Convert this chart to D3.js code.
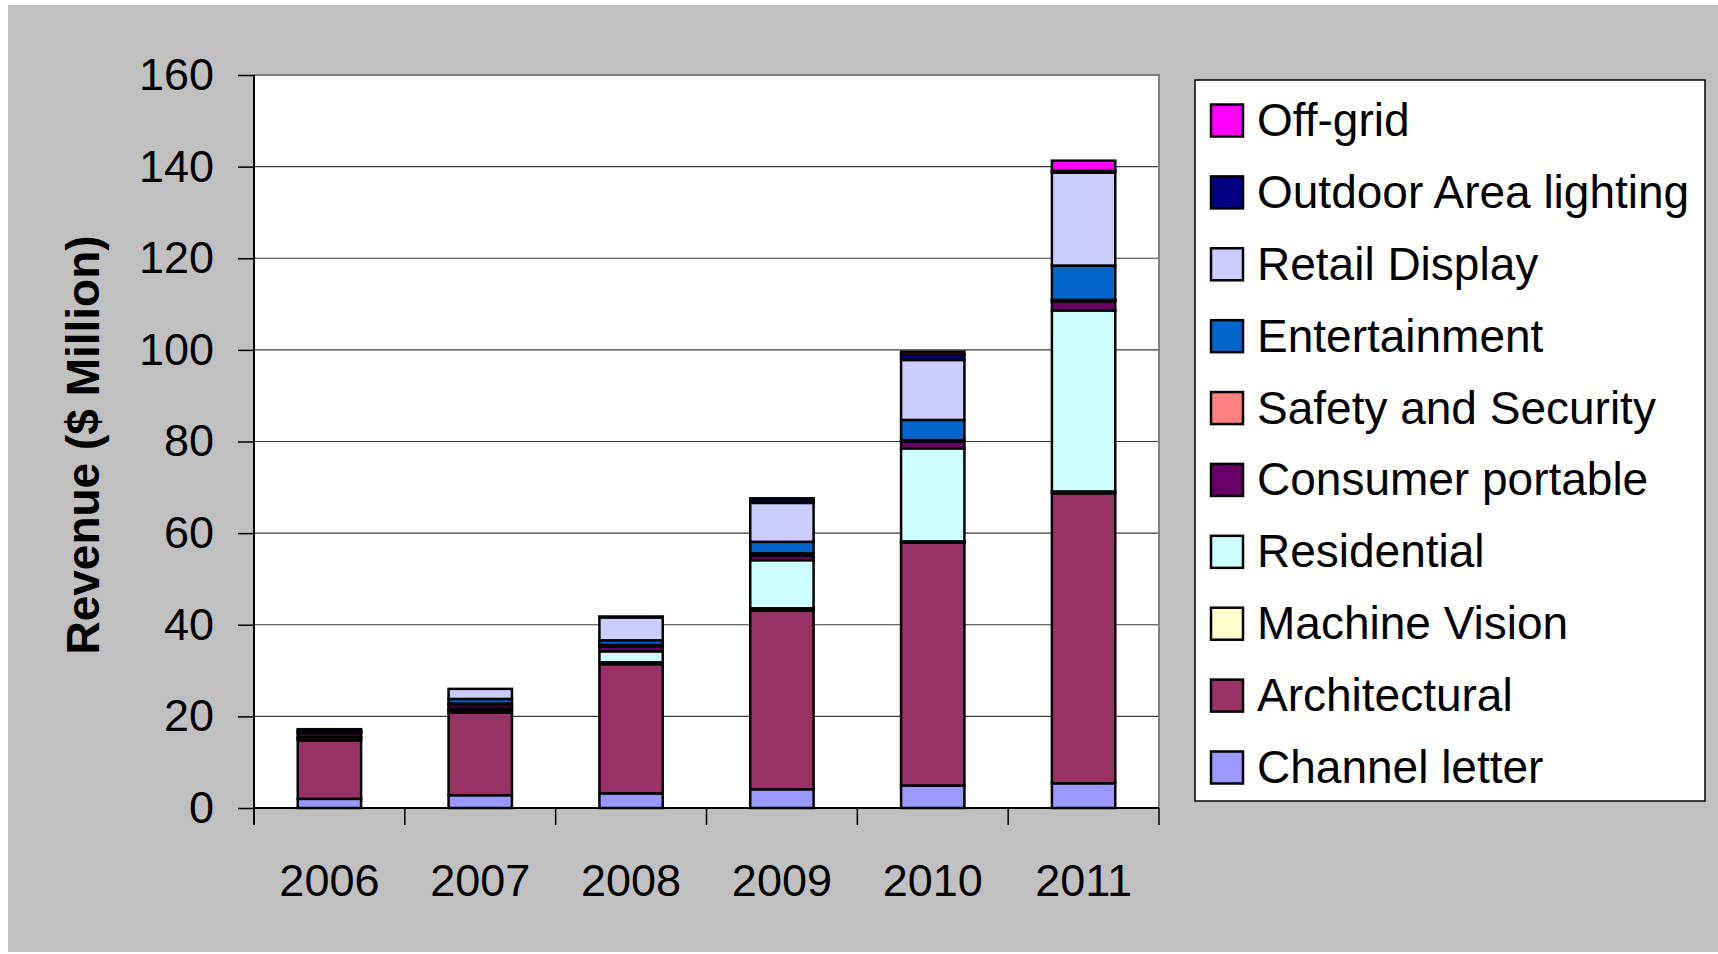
<!DOCTYPE html>
<html>
<head>
<meta charset="utf-8">
<script src="https://cdn.jsdelivr.net/npm/d3@7"></script>
<style>
  html, body { margin: 0; padding: 0; background: #ffffff; }
  svg { display: block; font-family: "Liberation Sans", Arial, sans-serif; }
</style>
</head>
<body>
<svg id="chart" width="1718" height="954"></svg>
<script>
// ---- Data ----
const years = ["2006", "2007", "2008", "2009", "2010", "2011"];
// series listed bottom-to-top of the stack
const seriesNames = ["Channel letter", "Architectural", "Machine Vision", "Residential",
  "Consumer portable", "Safety and Security", "Entertainment", "Retail Display",
  "Outdoor Area lighting", "Off-grid"];
const channelLetter    = [2.0, 2.8, 3.2, 4.1, 4.9, 5.4];
const architectural    = [12.7, 18.0, 28.2, 39.0, 53.0, 63.3];
const machineVision    = [0.5, 0.4, 0.4, 0.5, 0.3, 0.4];
const residential      = [0.3, 0.5, 2.4, 10.5, 20.3, 39.5];
const consumerPortable = [0.8, 0.8, 1.0, 1.0, 1.5, 2.0];
const safetySecurity   = [0.3, 0.3, 0.4, 0.5, 0.3, 0.3];
const entertainment    = [0.3, 1.0, 1.0, 2.5, 4.4, 7.5];
const retailDisplay    = [0.3, 2.2, 5.0, 8.5, 13.1, 20.3];
const outdoorArea      = [0.0, 0.0, 0.2, 0.8, 1.2, 0.4];
const offGrid          = [0.0, 0.0, 0.0, 0.2, 0.6, 2.2];
const yTicks = [0, 20, 40, 60, 80, 100, 120, 140, 160];
const colors = ["#9999FF", "#993366", "#FFFFCC", "#CCFFFF", "#660066",
  "#FF8080", "#0066CC", "#CCCCFF", "#000080", "#FF00FF"];

const seriesValues = [channelLetter, architectural, machineVision, residential,
  consumerPortable, safetySecurity, entertainment, retailDisplay, outdoorArea, offGrid];

const table = years.map((yr, i) => {
  const row = { year: yr };
  seriesNames.forEach((s, k) => { row[s] = seriesValues[k][i]; });
  return row;
});

// ---- Layout ----
const svg = d3.select("#chart");
const plot = { left: 254, right: 1159, top: 75, bottom: 808 };

svg.append("rect").attr("x", 8).attr("y", 5).attr("width", 1710).attr("height", 947)
  .attr("fill", "#C0C0C0");

svg.append("rect").attr("x", plot.left).attr("y", plot.top)
  .attr("width", plot.right - plot.left).attr("height", plot.bottom - plot.top)
  .attr("fill", "#ffffff");

const x = d3.scaleBand().domain(years).range([plot.left, plot.right])
  .paddingInner(0.58).paddingOuter(0.29);
const y = d3.scaleLinear().domain([0, 160]).range([plot.bottom, plot.top]);

// gridlines
svg.append("g").selectAll("line").data(yTicks.filter(t => t > 0 && t < 160)).join("line")
  .attr("x1", plot.left).attr("x2", plot.right)
  .attr("y1", d => y(d)).attr("y2", d => y(d))
  .attr("stroke", "#3a3a3a").attr("stroke-width", 1.2);

// plot border (top & right)
svg.append("path")
  .attr("d", `M${plot.left},${plot.top}H${plot.right}V${plot.bottom}`)
  .attr("fill", "none").attr("stroke", "#808080").attr("stroke-width", 2);

// stacked bars
const stacked = d3.stack().keys(seriesNames)(table);
svg.append("g").selectAll("g").data(stacked).join("g")
  .attr("fill", (d, i) => colors[i])
  .selectAll("rect").data(d => d).join("rect")
  .attr("x", d => x(d.data.year))
  .attr("width", x.bandwidth())
  .attr("y", d => y(d[1]))
  .attr("height", d => Math.max(0, y(d[0]) - y(d[1])))
  .attr("stroke", "#000").attr("stroke-width", 2.5);

// y axis
const yAxis = d3.axisLeft(y).tickValues(yTicks).tickSize(16).tickPadding(24);
const gy = svg.append("g").attr("transform", `translate(${plot.left},0)`).call(yAxis);
gy.select(".domain").attr("stroke", "#000").attr("stroke-width", 2)
  .attr("d", `M0,${plot.top}V${plot.bottom + 17}`);
gy.selectAll(".tick line").attr("stroke", "#000").attr("stroke-width", 1.5);
gy.selectAll(".tick text").attr("font-size", 45).attr("fill", "#000")
  .attr("font-family", "Liberation Sans, Arial, sans-serif");

// x axis with boundary ticks
const boundaries = years.map(yr => x(yr) - x.step() * x.paddingInner() / 2)
  .concat([plot.right]);
svg.append("line").attr("x1", plot.left).attr("x2", plot.right)
  .attr("y1", plot.bottom).attr("y2", plot.bottom)
  .attr("stroke", "#000").attr("stroke-width", 2);
svg.append("g").selectAll("line").data(boundaries).join("line")
  .attr("x1", d => d).attr("x2", d => d)
  .attr("y1", plot.bottom).attr("y2", plot.bottom + 17)
  .attr("stroke", "#000").attr("stroke-width", 1.5);
svg.append("g").selectAll("text").data(years).join("text")
  .attr("x", d => x(d) + x.bandwidth() / 2)
  .attr("y", 896)
  .attr("text-anchor", "middle")
  .attr("font-size", 45).attr("fill", "#000")
  .text(d => d);

// y title
svg.append("text")
  .attr("transform", "translate(99,445) rotate(-90)")
  .attr("text-anchor", "middle")
  .attr("font-size", 46).attr("font-weight", "bold").attr("fill", "#000")
  .text("Revenue ($ Million)");

// legend
const legend = svg.append("g");
legend.append("rect").attr("x", 1195).attr("y", 80).attr("width", 510).attr("height", 721)
  .attr("fill", "#fff").attr("stroke", "#000").attr("stroke-width", 1.5);
const legendOrder = seriesNames.map((s, i) => ({ name: s, color: colors[i] })).reverse();
const ly = d3.scalePoint().domain(legendOrder.map(d => d.name)).range([120.5, 767.5]);
const items = legend.selectAll("g.item").data(legendOrder).join("g").attr("class", "item")
  .attr("transform", d => `translate(0,${ly(d.name)})`);
items.append("rect").attr("x", 1211).attr("y", -16).attr("width", 32).attr("height", 32)
  .attr("fill", d => d.color).attr("stroke", "#000").attr("stroke-width", 2.5);
items.append("text").attr("x", 1257).attr("y", 15.5)
  .attr("font-size", 46).attr("fill", "#000")
  .text(d => d.name);
</script>
</body>
</html>
